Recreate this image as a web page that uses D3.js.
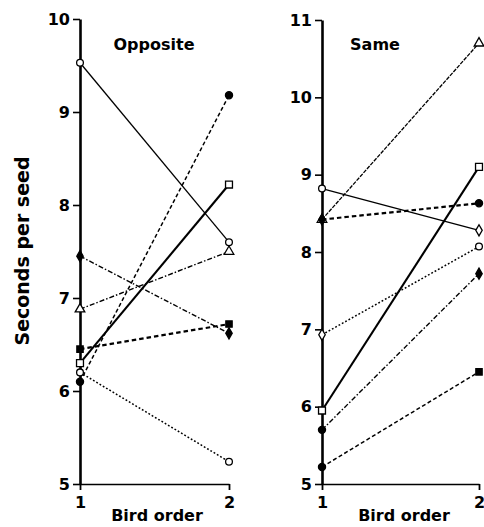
<!DOCTYPE html>
<html>
<head>
<meta charset="utf-8">
<script src="https://cdn.jsdelivr.net/npm/d3@7"></script>
<style>
body { margin: 0; background: #fff; }
svg { display: block; }
.axis text { font-family: "DejaVu Sans", sans-serif; font-weight: bold; font-size: 16px; fill: #000; }
.label { font-family: "DejaVu Sans", sans-serif; font-weight: bold; fill: #000; }
</style>
</head>
<body>
<div id="chart"></div>
<script>
// Bird order (x axis)
var birdOrder = [1, 2];

// Opposite: seconds per seed, first and second bird
var oppositeFirst  = [9.53, 7.45, 6.88, 6.45, 6.30, 6.20, 6.10];
var oppositeSecond = [7.60, 6.62, 7.50, 6.72, 8.22, 5.24, 9.18];

// Same: seconds per seed, first and second bird
var sameFirst  = [8.42, 8.42, 8.82, 6.93, 5.95, 5.70, 5.22];
var sameSecond = [10.70, 8.63, 8.28, 8.07, 9.10, 7.72, 6.45];

// Tick labels
var oppositeTicks = [5, 6, 7, 8, 9, 10];
var sameTicks = [5, 6, 7, 8, 9, 10, 11];

// Line and marker styles per pair
var oppositeLine = ["solid", "dashdot", "dashdot", "heavy", "thick", "dotted", "dashed"];
var oppositeMark1 = ["oc", "fd", "ot", "fs", "os", "oc", "fc"];
var oppositeMark2 = ["oc", "fd", "ot", "fs", "os", "oc", "fc"];

var sameLine = ["fine", "heavy", "solid", "dotted", "thick", "dashdot", "dashed"];
var sameMark1 = ["ot", "fd", "oc", "od", "os", "fc", "fc"];
var sameMark2 = ["ot", "fc", "od", "oc", "os", "fd", "fs"];

var lineStyles = {
    solid:   { w: 1.3, dash: null },
    fine:    { w: 1.3, dash: "4,1.2" },
    thick:   { w: 2.1, dash: null },
    dashed:  { w: 1.5, dash: "4,2.5" },
    heavy:   { w: 2.2, dash: "4.5,3" },
    dashdot: { w: 1.4, dash: "5,2,1.5,2" },
    dotted:  { w: 1.5, dash: "1.8,2" }
};

var markStyles = {
    oc: { type: d3.symbolCircle, size: 36, fill: "#fff" },
    fc: { type: d3.symbolCircle, size: 40, fill: "#000" },
    os: { type: d3.symbolSquare, size: 48, fill: "#fff" },
    fs: { type: d3.symbolSquare, size: 40, fill: "#000" },
    ot: { type: d3.symbolTriangle, size: 40, fill: "#fff" },
    fd: { type: d3.symbolDiamond, size: 36, fill: "#000" },
    od: { type: d3.symbolDiamond, size: 36, fill: "#fff" }
};

var width = 484,
    height = 527;

var svg = d3.select("#chart").append("svg")
    .attr("width", width)
    .attr("height", height);

function drawPanel(cfg) {
    var x = d3.scaleLinear().domain(d3.extent(birdOrder)).range([cfg.left, cfg.right]);
    var y = d3.scaleLinear().domain(d3.extent(cfg.ticks)).range([484, cfg.top]);

    var g = svg.append("g");

    // x axis
    var xAxis = g.append("g")
        .attr("class", "axis")
        .attr("transform", "translate(0,484)")
        .call(d3.axisBottom(x).tickValues(birdOrder).tickFormat(d3.format("d"))
            .tickSize(6).tickSizeOuter(0).tickPadding(7));
    xAxis.select(".domain").attr("stroke-width", 1.6);
    xAxis.selectAll(".tick line").attr("stroke-width", 1.8);

    // y axis
    var yAxis = g.append("g")
        .attr("class", "axis")
        .attr("transform", "translate(" + cfg.left + ",0)")
        .call(d3.axisLeft(y).tickValues(cfg.ticks).tickFormat(d3.format("d"))
            .tickSize(7).tickSizeOuter(0).tickPadding(3));
    yAxis.select(".domain").attr("stroke-width", 2.6);
    yAxis.selectAll(".tick line").attr("stroke-width", 1.6);

    // pairs
    var pairs = cfg.first.map(function(v, i) {
        return { a: v, b: cfg.second[i], line: cfg.line[i], m1: cfg.mark1[i], m2: cfg.mark2[i] };
    });

    g.selectAll("line.pair")
        .data(pairs)
        .enter().append("line")
        .attr("class", "pair")
        .attr("x1", x(birdOrder[0]))
        .attr("x2", x(birdOrder[1]))
        .attr("y1", function(d) { return y(d.a); })
        .attr("y2", function(d) { return y(d.b); })
        .attr("stroke", "#000")
        .attr("stroke-width", function(d) { return lineStyles[d.line].w; })
        .attr("stroke-dasharray", function(d) { return lineStyles[d.line].dash; });

    var marks = [];
    pairs.forEach(function(d) {
        marks.push({ o: birdOrder[0], v: d.a, m: d.m1 });
        marks.push({ o: birdOrder[1], v: d.b, m: d.m2 });
    });

    g.selectAll("path.mark")
        .data(marks)
        .enter().append("path")
        .attr("class", "mark")
        .attr("transform", function(d) { return "translate(" + x(d.o) + "," + y(d.v) + ")"; })
        .attr("d", function(d) { return d3.symbol().type(markStyles[d.m].type).size(markStyles[d.m].size)(); })
        .attr("fill", function(d) { return markStyles[d.m].fill; })
        .attr("stroke", "#000")
        .attr("stroke-width", 1.3);

    // panel title and x label
    g.append("text")
        .attr("class", "label")
        .attr("x", cfg.titleX)
        .attr("y", 50)
        .attr("text-anchor", "middle")
        .style("font-size", "16px")
        .text(cfg.title);

    g.append("text")
        .attr("class", "label")
        .attr("x", cfg.xLabelX)
        .attr("y", 521)
        .attr("text-anchor", "middle")
        .style("font-size", "16px")
        .text("Bird order");
}

drawPanel({
    left: 80, right: 229, top: 19, ticks: oppositeTicks,
    first: oppositeFirst, second: oppositeSecond,
    line: oppositeLine, mark1: oppositeMark1, mark2: oppositeMark2,
    title: "Opposite", titleX: 154, xLabelX: 157
});

drawPanel({
    left: 322, right: 479, top: 20, ticks: sameTicks,
    first: sameFirst, second: sameSecond,
    line: sameLine, mark1: sameMark1, mark2: sameMark2,
    title: "Same", titleX: 375, xLabelX: 404
});

// y axis title
svg.append("text")
    .attr("class", "label")
    .attr("transform", "translate(29,251) rotate(-90)")
    .attr("text-anchor", "middle")
    .style("font-size", "19px")
    .text("Seconds per seed");
</script>
</body>
</html>
